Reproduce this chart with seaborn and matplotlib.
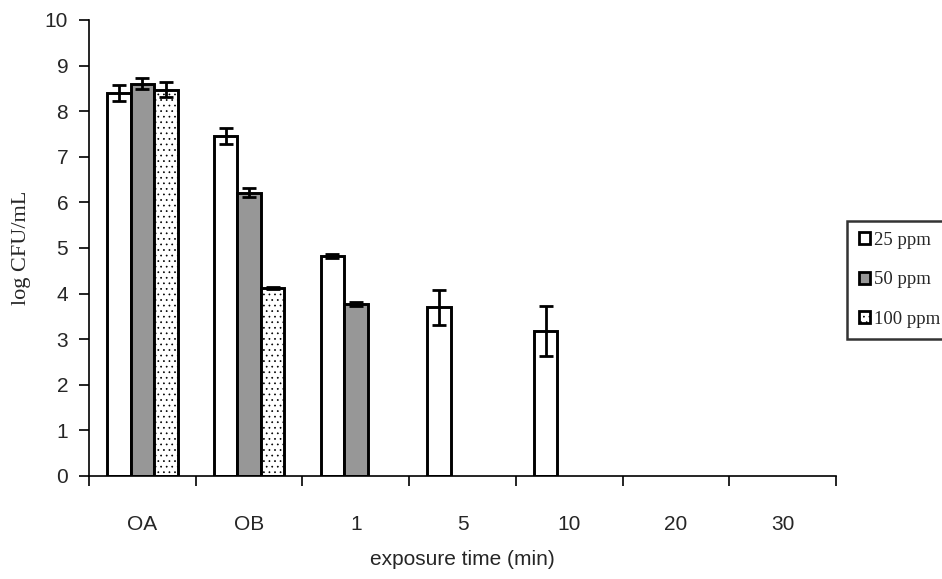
import numpy as np
import pandas as pd
import matplotlib
matplotlib.use("Agg")
import matplotlib.pyplot as plt
import seaborn as sns

# Exposure times (categories) and ozone concentrations (series)
times = ["OA", "OB", "1", "5", "10", "20", "30"]
concs = ["25 ppm", "50 ppm", "100 ppm"]

# Mean log CFU/mL per concentration (NaN = no count)
mean_25 = [8.40, 7.45, 4.82, 3.70, 3.18, np.nan, np.nan]
mean_50 = [8.60, 6.21, 3.77, np.nan, np.nan, np.nan, np.nan]
mean_100 = [8.47, 4.12, np.nan, np.nan, np.nan, np.nan, np.nan]

# Standard deviations
sd_25 = [0.17, 0.17, 0.05, 0.38, 0.55, np.nan, np.nan]
sd_50 = [0.12, 0.10, 0.05, np.nan, np.nan, np.nan, np.nan]
sd_100 = [0.17, 0.03, np.nan, np.nan, np.nan, np.nan, np.nan]

y_ticks = list(range(0, 11))

means = {"25 ppm": mean_25, "50 ppm": mean_50, "100 ppm": mean_100}
sds = {"25 ppm": sd_25, "50 ppm": sd_50, "100 ppm": sd_100}

rows = []
for c in concs:
    for t, m, s in zip(times, means[c], sds[c]):
        rows.append({"time": t, "conc": c, "value": m, "sd": s})
df = pd.DataFrame(rows)

sns.set_theme(style="white")
sans = ["Liberation Sans Narrow", "Liberation Sans", "DejaVu Sans"]
serif = ["Liberation Serif", "DejaVu Serif"]
plt.rcParams["font.family"] = sans
plt.rcParams["hatch.linewidth"] = 0.5
plt.rcParams["hatch.color"] = "black"

fig = plt.figure(figsize=(9.42, 5.79), dpi=100)
ax = fig.add_axes([0.0945, 0.178, 0.793, 0.7875])

palette = {"25 ppm": "white", "50 ppm": "#979797", "100 ppm": "white"}
sns.barplot(data=df.dropna(subset=["value"]), x="time", y="value", hue="conc",
            order=times, hue_order=concs, palette=palette, errorbar=None,
            width=0.66, edgecolor="black", linewidth=2.1, saturation=1,
            ax=ax, legend=True)

# dotted fill for 100 ppm, error bars from the bar tops
for c, container in zip(concs, ax.containers):
    sub = df[(df["conc"] == c)].dropna(subset=["value"])
    for bar, (_, row) in zip(container, sub.iterrows()):
        if c == "100 ppm":
            bar.set_hatch("...")
        xc = bar.get_x() + bar.get_width() / 2
        ax.errorbar(xc, row["value"], yerr=row["sd"], fmt="none",
                    ecolor="black", elinewidth=2.0, capsize=5, capthick=2.0,
                    zorder=5)

ax.set_ylim(0, 10)
ax.set_xlim(-0.5, len(times) - 0.5)
ax.set_yticks(y_ticks)
ax.set_yticklabels([str(v) for v in y_ticks], fontsize=15, family=sans)

# category labels centred, ticks at category boundaries
ax.set_xticks(range(len(times)))
ax.set_xticklabels(times, fontsize=15, family=sans)
ax.tick_params(axis="x", which="major", length=0, pad=28)
ax.set_xticks(np.arange(-0.5, len(times)), minor=True)
ax.tick_params(axis="x", which="minor", direction="out", length=7, width=1.2,
               color="black", bottom=True)
ax.tick_params(axis="y", direction="out", length=7, width=1.2, color="black",
               left=True, pad=8)

for side in ("top", "right"):
    ax.spines[side].set_visible(False)
for side in ("left", "bottom"):
    ax.spines[side].set_color("black")
    ax.spines[side].set_linewidth(1.2)

ax.set_xlabel("exposure time (min)", fontsize=15, family=sans, labelpad=12)
ax.set_ylabel("log CFU/mL", fontsize=16, family=serif, labelpad=10)

handles, labels = ax.get_legend_handles_labels()
for h in handles:
    h.set_linewidth(2.0)
if len(handles) == 3:
    handles[2].set_hatch("...")
leg = ax.legend(handles, labels, loc="center left", bbox_to_anchor=(1.0, 0.43),
                bbox_transform=ax.transAxes, frameon=True, fancybox=False,
                prop={"family": serif, "size": 13.5}, handlelength=0.6,
                handleheight=0.6, handletextpad=0.2, labelspacing=1.2,
                borderpad=0.6, borderaxespad=0.6)
leg.get_frame().set_edgecolor("black")
leg.get_frame().set_linewidth(1.8)

fig.savefig("out.png", dpi=100)
